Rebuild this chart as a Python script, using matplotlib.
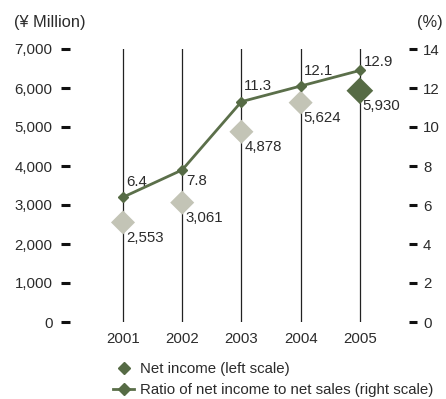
import matplotlib.pyplot as plt
from matplotlib.lines import Line2D

plt.rcParams['font.family'] = ['Liberation Sans', 'DejaVu Sans']

years = [2001, 2002, 2003, 2004, 2005]
net_income = [2553, 3061, 4878, 5624, 5930]          # ¥ Million
ratio = [6.4, 7.8, 11.3, 12.1, 12.9]                  # %
income_labels = ['2,553', '3,061', '4,878', '5,624', '5,930']
ratio_labels = ['6.4', '7.8', '11.3', '12.1', '12.9']

left_ticks = [0, 1000, 2000, 3000, 4000, 5000, 6000, 7000]
right_ticks = [0, 2, 4, 6, 8, 10, 12, 14]

grey = '#c3c4b6'
green = '#566b45'
line_green = '#5b6f4a'
txt = '#2b2b2b'
fs = 10.8

fig = plt.figure(figsize=(4.46, 3.99), dpi=100)
ax = fig.add_axes([70 / 446, 1 - 322 / 399, 339 / 446, 273 / 399])
ax2 = ax.twinx()

# vertical guide lines at each year
for y in years:
    ax.axvline(y, color='#222222', lw=0.9, zorder=1)

# net income diamonds (latest year highlighted)
ax.scatter(years[:-1], net_income[:-1], marker='D', s=150, color=grey,
           edgecolors='none', zorder=3)
ax.scatter(years[-1:], net_income[-1:], marker='D', s=185, color=green,
           edgecolors='none', zorder=3)
for x, v, lab in zip(years, net_income, income_labels):
    ax.annotate(lab, (x, v), xytext=(2, -6), textcoords='offset points',
                ha='left', va='top', fontsize=fs, color=txt, zorder=4)

# ratio line on the right scale; 2002 label sits below the line
ratio_offsets = [(2, 6), (3, -3), (2, 6), (2, 6), (3, 1)]
ratio_va = ['bottom', 'top', 'bottom', 'bottom', 'bottom']
ax2.plot(years, ratio, color=line_green, lw=2, marker='D', ms=5.5,
         mfc=green, mec=green, zorder=5)
for x, v, lab, off, va in zip(years, ratio, ratio_labels, ratio_offsets, ratio_va):
    ax2.annotate(lab, (x, v), xytext=off, textcoords='offset points',
                 ha='left', va=va, fontsize=fs, color=txt)

ax.set_xlim(2000.105, 2005.83)
ax.set_ylim(0, 7000)
ax2.set_ylim(0, 14)

ax.set_yticks(left_ticks)
ax.set_yticklabels([f'{t:,}' for t in left_ticks])
ax2.set_yticks(right_ticks)
ax.set_xticks(years)
ax.set_xticklabels([str(y) for y in years])

ax.tick_params(axis='y', direction='out', length=6.5, width=2.2, color='#111111',
               pad=6, labelsize=fs, labelcolor=txt)
ax2.tick_params(axis='y', direction='out', length=6, width=2.2, color='#111111',
                pad=4, labelsize=fs, labelcolor=txt)
ax.tick_params(axis='x', length=0, pad=7, labelsize=fs, labelcolor=txt)

for a in (ax, ax2):
    for s in a.spines.values():
        s.set_visible(False)

fig.text(14 / 446, 1 - 22 / 399, '(¥ Million)', fontsize=11.8, color=txt,
         ha='left', va='center')
fig.text(443 / 446, 1 - 22 / 399, '(%)', fontsize=11.8, color=txt,
         ha='right', va='center')

handles = [
    Line2D([], [], ls='none', marker='D', ms=6, color=green),
    Line2D([], [], color=line_green, lw=2, marker='D', ms=6, mfc=green, mec=green),
]
fig.legend(handles, ['Net income (left scale)',
                     'Ratio of net income to net sales (right scale)'],
           loc='upper left', bbox_to_anchor=(113 / 446, 1 - 362 / 399),
           frameon=False, fontsize=fs, handlelength=1.4, handletextpad=0.4,
           labelspacing=0.45, borderpad=0, borderaxespad=0, labelcolor=txt)

fig.savefig('out.png', dpi=100)
